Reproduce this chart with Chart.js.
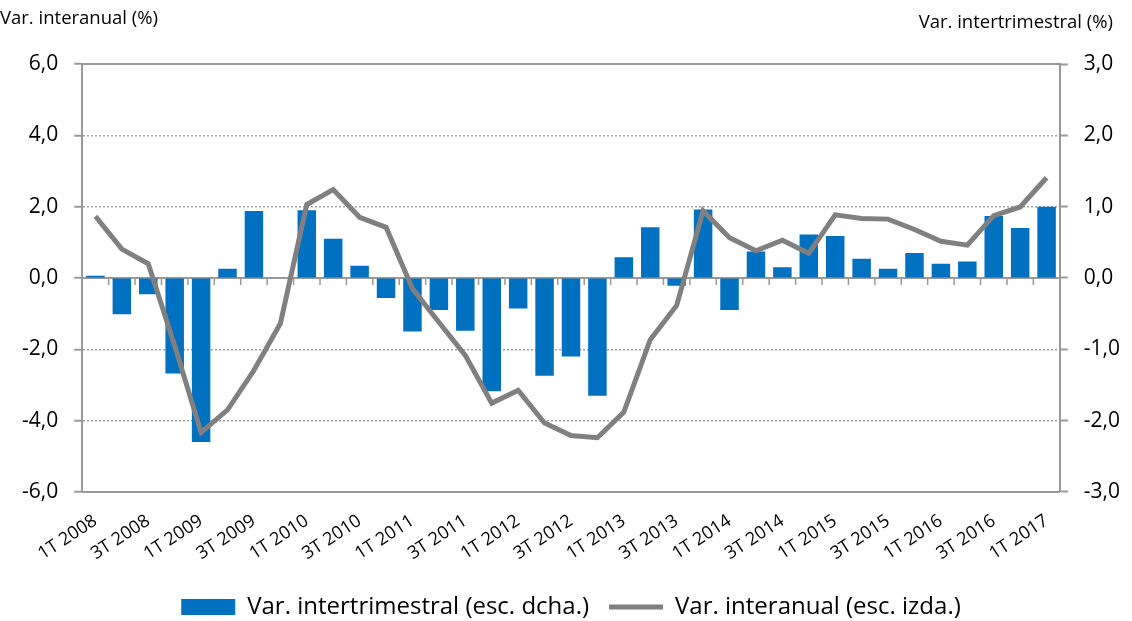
<!DOCTYPE html>
<html>
<head>
<meta charset="utf-8">
<script src="https://cdn.jsdelivr.net/npm/chart.js@4"></script>
<style>
  body { margin: 0; background: #fff; font-family: "Open Sans", sans-serif; }
  #wrap { position: relative; width: 1132px; height: 621px; }
  .ttl { position: absolute; font-size: 18.5px; color: #000; }
</style>
</head>
<body>
<div id="wrap">
  <div class="ttl" style="left:0; top:4px">Var. interanual (%)</div>
  <div class="ttl" style="right:19px; top:8px">Var. intertrimestral (%)</div>
  <canvas id="chart" width="1132" height="621"></canvas>
</div>
<script>
var quarters = [
  "1T 2008", "2T 2008", "3T 2008", "4T 2008",
  "1T 2009", "2T 2009", "3T 2009", "4T 2009",
  "1T 2010", "2T 2010", "3T 2010", "4T 2010",
  "1T 2011", "2T 2011", "3T 2011", "4T 2011",
  "1T 2012", "2T 2012", "3T 2012", "4T 2012",
  "1T 2013", "2T 2013", "3T 2013", "4T 2013",
  "1T 2014", "2T 2014", "3T 2014", "4T 2014",
  "1T 2015", "2T 2015", "3T 2015", "4T 2015",
  "1T 2016", "2T 2016", "3T 2016", "4T 2016",
  "1T 2017"
];

// quarter-on-quarter change, right axis
var varIntertrimestral = [
  0.03, -0.51, -0.23, -1.34, -2.30, 0.13, 0.94, 0.0,
  0.95, 0.55, 0.17, -0.28, -0.75, -0.45, -0.74, -1.59,
  -0.43, -1.37, -1.10, -1.65, 0.29, 0.71, -0.11, 0.96,
  -0.45, 0.37, 0.15, 0.61, 0.59, 0.27, 0.13, 0.35,
  0.20, 0.23, 0.87, 0.70, 1.00
];

// year-on-year change, left axis
var varInteranual = [
  1.73, 0.81, 0.40, -1.90, -4.33, -3.70, -2.59, -1.28,
  2.06, 2.48, 1.70, 1.42, -0.30, -1.24, -2.17, -3.51,
  -3.15, -4.07, -4.42, -4.48, -3.76, -1.73, -0.77, 1.88,
  1.13, 0.76, 1.06, 0.69, 1.77, 1.67, 1.65, 1.36,
  1.03, 0.92, 1.75, 1.99, 2.81
];

var axisGray = '#999999';
var fontName = 'Open Sans';

function fmt(v) {
  return v.toFixed(1).replace('.', ',');
}

// solid lines at top, bottom and zero, plus the small category ticks on the zero line
var axisLines = {
  id: 'axisLines',
  beforeDatasetsDraw: function(chart) {
    var ctx = chart.ctx;
    var x = chart.scales.x;
    var y = chart.scales.y;
    var area = chart.chartArea;
    ctx.save();
    ctx.strokeStyle = axisGray;
    ctx.lineWidth = 2;
    [6, -6, 0].forEach(function(v) {
      var py = Math.round(y.getPixelForValue(v));
      ctx.beginPath();
      ctx.moveTo(area.left, py);
      ctx.lineTo(area.right, py);
      ctx.stroke();
    });
    var zy = Math.round(y.getPixelForValue(0));
    ctx.lineWidth = 1.5;
    for (var i = 1; i < quarters.length; i++) {
      var px = (x.getPixelForValue(i - 1) + x.getPixelForValue(i)) / 2;
      ctx.beginPath();
      ctx.moveTo(px, zy);
      ctx.lineTo(px, zy + 7);
      ctx.stroke();
    }
    ctx.restore();
  }
};

var ctx = document.getElementById('chart').getContext('2d');
var chart = new Chart(ctx, {
  data: {
    labels: quarters,
    datasets: [{
      type: 'bar',
      label: 'Var. intertrimestral (esc. dcha.)',
      data: varIntertrimestral,
      yAxisID: 'y1',
      backgroundColor: '#0070C0',
      borderWidth: 0,
      barPercentage: 0.7,
      categoryPercentage: 1,
      pointStyle: 'rect',
      order: 2
    }, {
      type: 'line',
      label: 'Var. interanual (esc. izda.)',
      data: varInteranual,
      yAxisID: 'y',
      borderColor: '#808080',
      backgroundColor: '#808080',
      borderWidth: 5,
      pointRadius: 0,
      tension: 0,
      pointStyle: 'line',
      order: 1
    }]
  },
  options: {
    responsive: false,
    animation: false,
    layout: { padding: { top: 64, left: 6, right: -4, bottom: -8 } },
    plugins: {
      tooltip: { enabled: false },
      legend: {
        position: 'bottom',
        labels: {
          usePointStyle: true,
          pointStyleWidth: 54,
          boxHeight: 16,
          padding: 20,
          color: '#000',
          font: { family: fontName, size: 24 },
          sort: function(a, b) { return a.datasetIndex - b.datasetIndex; }
        }
      }
    },
    scales: {
      x: {
        offset: true,
        grid: { display: false },
        border: { display: false },
        ticks: {
          autoSkip: false,
          minRotation: 33,
          maxRotation: 33,
          padding: 10.5,
          color: '#000',
          font: { family: fontName, size: 18 },
          callback: function(v, i) {
            return i % 2 === 0 ? this.getLabelForValue(v) : '';
          }
        }
      },
      y: {
        position: 'left',
        min: -6,
        max: 6,
        ticks: {
          stepSize: 2,
          color: '#000',
          padding: 16,
          font: { family: fontName, size: 21 },
          callback: function(v) { return fmt(v); }
        },
        grid: {
          color: '#a0a0a0',
          tickColor: axisGray,
          tickLength: 8,
          lineWidth: 1.5,
          tickWidth: 2
        },
        border: { display: true, color: axisGray, width: 2, dash: [2, 2] }
      },
      y1: {
        position: 'right',
        min: -3,
        max: 3,
        ticks: {
          stepSize: 1,
          color: '#000',
          padding: 16,
          font: { family: fontName, size: 21 },
          callback: function(v) { return fmt(v); }
        },
        grid: {
          drawOnChartArea: false,
          tickColor: axisGray,
          tickLength: 8,
          tickWidth: 2
        },
        border: { display: true, color: axisGray, width: 2 }
      }
    }
  },
  plugins: [axisLines]
});
</script>
</body>
</html>
